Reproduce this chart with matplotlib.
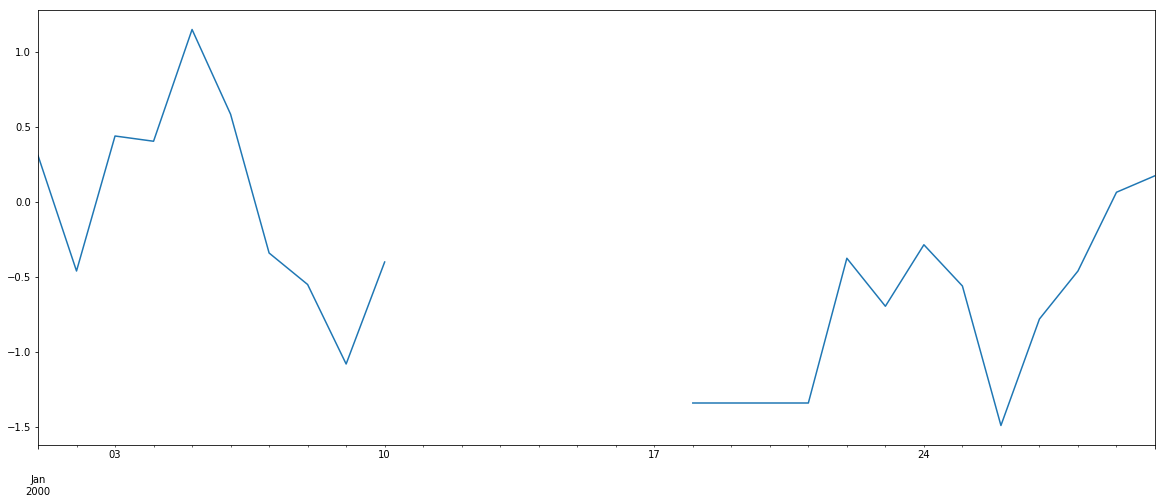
import numpy as np
import pandas as pd
import matplotlib
matplotlib.use('Agg')
import matplotlib.pyplot as plt

# Daily values, Jan 2000 (gap Jan 11-17)
dates = pd.date_range('2000-01-01', '2000-01-30', freq='D')
values = [0.31, -0.46, 0.44, 0.405, 1.15, 0.585, -0.34, -0.55, -1.08, -0.40,
          np.nan, np.nan, np.nan, np.nan, np.nan, np.nan, np.nan,
          -1.34, -1.34, -1.34, -1.34, -0.375, -0.695, -0.285, -0.56,
          -1.49, -0.78, -0.46, 0.065, 0.175]

series = pd.Series(values, index=dates)

fig = plt.figure(figsize=(1165 / 72, 504 / 72), dpi=72)
ax = fig.add_subplot(111)
series.plot(ax=ax, color='#1f77b4')

ax.set_ylim(-1.62, 1.28)
ax.tick_params(labelsize=10)

plt.subplots_adjust(left=38 / 1165, right=1155 / 1165, top=1 - 10 / 504, bottom=1 - 445 / 504)
plt.savefig('out.png', dpi=72)
